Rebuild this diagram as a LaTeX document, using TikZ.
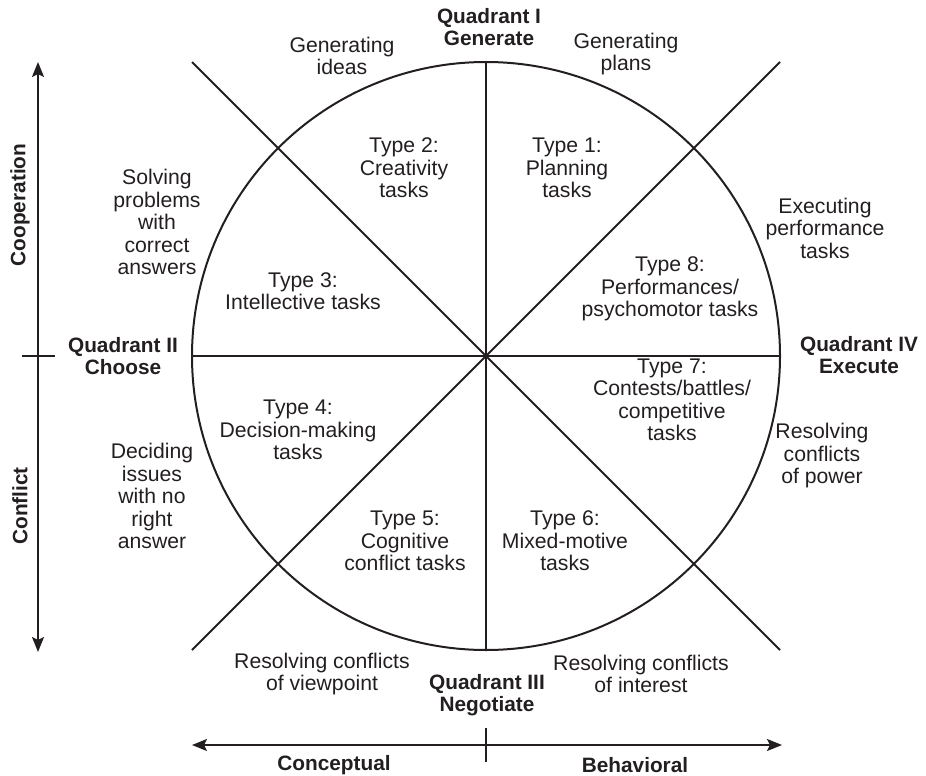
\documentclass[tikz,border=0pt]{standalone}
\usepackage{fontspec}
\setmainfont{Liberation Sans}
\usetikzlibrary{arrows.meta}
\definecolor{ink}{HTML}{231F20}
\begin{document}
\begin{tikzpicture}[x=1pt,y=-1pt,
  lbl/.style={align=center,text=ink,inner sep=0pt,font=\fontsize{21.2}{22.5}\selectfont},
  head/.style={lbl,font=\fontsize{20.8}{22.5}\selectfont\bfseries},
  frame/.style={draw=ink,line width=2pt},
  divider/.style={draw=ink,line width=1.2pt},
  axis/.style={draw=ink,line width=2pt,{Stealth[length=15pt,width=12pt,inset=3pt]}-{Stealth[length=15pt,width=12pt,inset=3pt]}},
  tick/.style={draw=ink,line width=2pt},
]
\useasboundingbox (0,0) rectangle (926,776);

% circle geometry
\coordinate (O) at (486,356);
\coordinate (T) at (486,62);
\coordinate (B) at (486,650);
\coordinate (L) at (192,356);
\coordinate (R) at (780,356);
\coordinate (NW) at (192,62);
\coordinate (SE) at (780,650);
\coordinate (NE) at (780,62);
\coordinate (SW) at (192,650);

\draw[frame] (O) circle[radius=294];
\draw[frame] (NW) -- (SE);
\draw[frame] (NE) -- (SW);
\draw[divider] (T) -- (B);
\draw[divider] (L) -- (R);

% axes
\coordinate (vtop) at (38,62);
\coordinate (vbot) at (38,652);
\coordinate (vt1) at (22,356);
\coordinate (vt2) at (55,356);
\coordinate (hl) at (192,745);
\coordinate (hr) at (782,745);
\coordinate (ht1) at (486,728);
\coordinate (ht2) at (486,762);
\draw[axis] (vbot) -- (vtop);
\draw[tick] (vt1) -- (vt2);
\draw[axis] (hl) -- (hr);
\draw[tick] (ht1) -- (ht2);

\node[head,rotate=90] (coop) at (20,205) {Cooperation};
\node[head,rotate=90] (confl) at (20,506) {Conflict};
\node[head] (concept) at (334,765) {Conceptual};
\node[head] (behav) at (635,765) {Behavioral};

% quadrant headings
\node[head] (q1) at (489,27) {Quadrant I\\Generate};
\node[head] (q2) at (123,356) {Quadrant II\\Choose};
\node[head] (q3) at (487,695) {Quadrant III\\Negotiate};
\node[head] (q4) at (859,355) {Quadrant IV\\Execute};

% task types inside the circle
\node[lbl] (t1) at (567,168) {Type 1:\\Planning\\tasks};
\node[lbl] (t2) at (404,168) {Type 2:\\Creativity\\tasks};
\node[lbl] (t3) at (303,291) {Type 3:\\Intellective tasks};
\node[lbl] (t4) at (298,430) {Type 4:\\Decision-making\\tasks};
\node[lbl] (t5) at (405,541) {Type 5:\\Cognitive\\conflict tasks};
\node[lbl] (t6) at (565,541) {Type 6:\\Mixed-motive\\tasks};
\node[lbl] (t7) at (672,400) {Type 7:\\Contests/battles/\\competitive\\tasks};
\node[lbl] (t8) at (670,289) {Type 8:\\Performances/\\psychomotor tasks};

% processes outside the circle
\node[lbl] (gi) at (342,56) {Generating\\ideas};
\node[lbl] (gp) at (626,54) {Generating\\plans};
\node[lbl] (sp) at (157,222) {Solving\\problems\\with\\correct\\answers};
\node[lbl] (ex) at (825,228) {Executing\\performance\\tasks};
\node[lbl] (di) at (152,496) {Deciding\\issues\\with no\\right\\answer};
\node[lbl] (rp) at (822,456) {Resolving\\conflicts\\of power};
\node[lbl] (rv) at (322,674) {Resolving conflicts\\of viewpoint};
\node[lbl] (ri) at (641,674) {Resolving conflicts\\of interest};
\end{tikzpicture}
\end{document}
